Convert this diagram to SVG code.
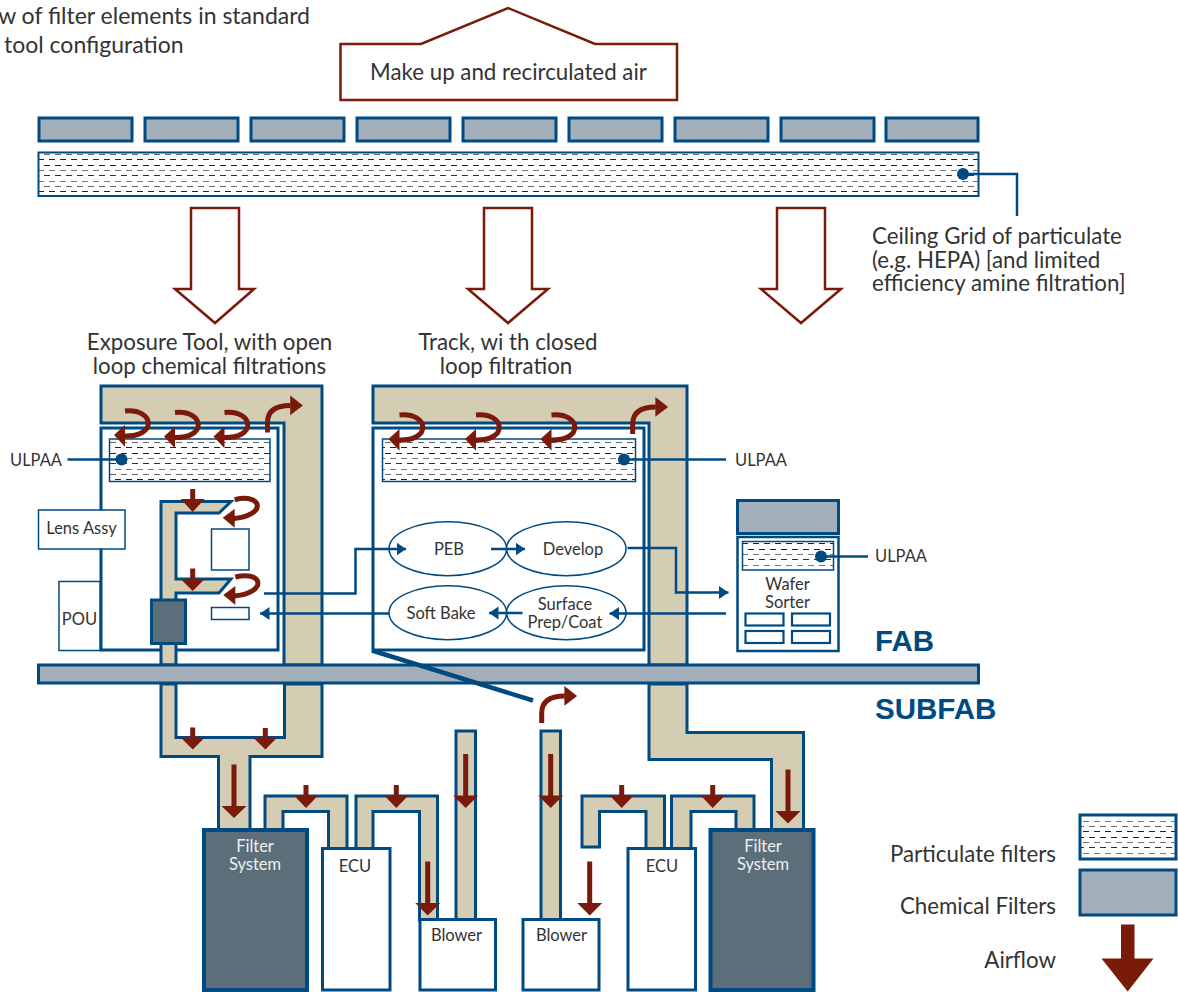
<svg xmlns="http://www.w3.org/2000/svg" width="1178" height="992" viewBox="0 0 1178 992">
<style>
text{font-family:Lato,"Open Sans","Liberation Sans",sans-serif;fill:#333;font-size:22.3px}
.m{text-anchor:middle}.e{text-anchor:end}
.s{font-size:16.5px}
.t{font-size:23px}
.w{fill:#eee}
.h{font-family:"Liberation Sans",Arial,sans-serif;font-weight:700;font-size:29.5px;fill:#004a82}
.duct{fill:#d4cdb4;stroke:#004a82;stroke-width:3;stroke-linejoin:miter}
.chem{fill:#a2afba;stroke:#004a82;stroke-width:3}
.part{fill:url(#dash);stroke:#004a82;stroke-width:2}
.box{fill:#fff;stroke:#004a82;stroke-width:3}
.thin{fill:#fff;stroke:#004a82;stroke-width:1.5}
.dark{fill:#5c6e79;stroke:#004a82;stroke-width:4}
.big{fill:#fff;stroke:#7a1a0a;stroke-width:2.5}
.ra{fill:#7a1a0a}
.rs{fill:none;stroke:#7a1a0a;stroke-width:5}
.ln{fill:none;stroke:#004a82;stroke-width:2.5}
.ar{fill:none;stroke:#004a82;stroke-width:2.5;marker-end:url(#tri)}
.dot{fill:#004a82}
</style>
<defs>
<pattern id="dash" patternUnits="userSpaceOnUse" x="0" y="154" width="11" height="32">
<rect width="11" height="32" fill="#fff"/>
<path d="M0,.5h6" stroke="#666" fill="none"/>
<path d="M5,5.5h6" stroke="#222" fill="none"/>
<path d="M0,11.5h6" stroke="#222" fill="none"/>
<path d="M5,16.5h6" stroke="#777" fill="none"/>
<path d="M0,21.5h6" stroke="#333" fill="none"/>
<path d="M5,27.5h6" stroke="#777" fill="none"/>
</pattern>
<marker id="tri" markerUnits="userSpaceOnUse" markerWidth="10" markerHeight="14" refX="9.5" refY="6.5" orient="auto"><path d="M0,0L9.5,6.5L0,13Z" fill="#004a82"/></marker>
<g id="uturn"><path class="rs" d="M11,-24C40,-27 45,3 8,1"/><path class="ra" d="M0,0L11,-10V11.7Z"/></g>
<g id="uturnS"><path class="rs" d="M12,-18C40,-25 45,-2 10,1"/><path class="ra" d="M0,0L12,-9V10Z"/></g>
<g id="upturn"><path class="rs" d="M0,0V-10Q0,-27 23,-27"/><path class="ra" d="M22.7,-37L35.4,-27L22.7,-17.3Z"/></g>
</defs>

<rect width="1178" height="992" fill="#fff"/>

<g id="title">
<text class="e t" x="310" y="24">w of filter elements in standard</text>
<text class="t" x="4" y="53">tool configuration</text>
</g>

<g id="makeup-air">
<path class="big" d="M340.5,44H421L508,8L595,44H677V100H340.5Z"/>
<text class="m" x="508.5" y="80">Make up and recirculated air</text>
</g>

<g id="chemical-filters">
<rect class="chem" x="39" y="118" width="93" height="23"/>
<rect class="chem" x="145" y="118" width="93" height="23"/>
<rect class="chem" x="251" y="118" width="93" height="23"/>
<rect class="chem" x="357" y="118" width="93" height="23"/>
<rect class="chem" x="463" y="118" width="93" height="23"/>
<rect class="chem" x="569" y="118" width="93" height="23"/>
<rect class="chem" x="675" y="118" width="93" height="23"/>
<rect class="chem" x="781" y="118" width="93" height="23"/>
<rect class="chem" x="886" y="118" width="92" height="23"/>
</g>

<g id="ceiling-grid">
<rect class="part" x="38.5" y="152.5" width="940" height="43.5"/>
<circle class="dot" cx="963" cy="174" r="6"/>
<path class="ln" d="M963,174H1017V216"/>
<text x="872" y="244">Ceiling Grid of particulate</text>
<text x="872" y="268">(e.g. HEPA) [and limited</text>
<text x="872" y="291">efficiency amine filtration]</text>
</g>

<g id="downflow">
<path class="big" d="M191,208H239V289H254L215,323L175,289H191Z"/>
<path class="big" d="M484,208H532V289H548L508,323L468,289H484Z"/>
<path class="big" d="M777,208H825V289H841L801,323L761,289H777Z"/>
</g>

<g id="exposure-tool">
<text class="m" x="209.5" y="350">Exposure Tool, with open</text>
<text class="m" x="209.5" y="374">loop chemical filtrations</text>
<path class="duct" d="M101,386H322V665H284V423H101Z"/>
<rect class="box" x="101" y="428" width="177" height="222"/>
<rect class="part" x="109.5" y="439" width="160.5" height="42.5" style="stroke-width:1.5"/>
<circle class="dot" cx="121.5" cy="459.5" r="6"/>
<path class="ln" d="M67.5,459.5H121"/>
<text class="s" x="10" y="466">ULPAA</text>
<rect class="thin" x="38.5" y="510" width="86.5" height="39"/>
<text class="s m" x="81.5" y="534">Lens Assy</text>
<rect class="thin" x="59" y="581.5" width="41" height="69"/>
<text class="s m" x="79.5" y="625">POU</text>
<path class="duct" d="M161,665V501.5H231L219,513H176V579H231L219,593H176V665Z"/>
<rect class="thin" x="211.5" y="529" width="37.5" height="41"/>
<rect class="thin" x="211.5" y="607.5" width="37.5" height="12"/>
<rect x="151.5" y="600" width="34" height="43.5" fill="#5c6e79" stroke="#004a82" stroke-width="3"/>
</g>

<g id="track">
<text class="m" x="508" y="350">Track, wi th closed</text>
<text class="m" x="506" y="374">loop filtration</text>
<path class="duct" d="M373,386H687V665H649V423H373Z"/>
<rect class="box" x="373" y="428" width="271" height="222"/>
<rect class="part" x="382.5" y="439" width="253" height="42.5" style="stroke-width:1.5"/>
<circle class="dot" cx="624" cy="459.5" r="6"/>
<path class="ln" d="M624,459.5H726"/>
<text class="s" x="735" y="466">ULPAA</text>
<ellipse class="thin" cx="447.8" cy="548.7" rx="58.8" ry="27"/>
<ellipse class="thin" cx="566.3" cy="548.7" rx="59.7" ry="27"/>
<ellipse class="thin" cx="447.8" cy="612.7" rx="58.8" ry="27"/>
<ellipse class="thin" cx="566.3" cy="612.7" rx="59.7" ry="27"/>
<text class="s m" x="449" y="555">PEB</text>
<text class="s m" x="573" y="555">Develop</text>
<text class="s m" x="441" y="619">Soft Bake</text>
<text class="s m" x="565" y="610">Surface</text>
<text class="s m" x="565" y="628">Prep/Coat</text>
</g>

<g id="wafer-sorter">
<rect class="chem" x="737.5" y="500.5" width="101" height="33"/>
<rect x="737.5" y="537" width="101" height="114" fill="#fff" stroke="#004a82" stroke-width="2.5"/>
<rect class="part" x="742.5" y="541.5" width="91" height="28.5" style="stroke-width:1.5"/>
<circle class="dot" cx="821" cy="556.5" r="6"/>
<path class="ln" d="M821,556.5H868"/>
<text class="s" x="875" y="562">ULPAA</text>
<text class="s m" x="787.5" y="590">Wafer</text>
<text class="s m" x="787.5" y="608">Sorter</text>
<rect x="745.5" y="613.5" width="38" height="12" fill="#fff" stroke="#004a82" stroke-width="2.2"/>
<rect x="792" y="613.5" width="38" height="12" fill="#fff" stroke="#004a82" stroke-width="2.2"/>
<rect x="745.5" y="631" width="38" height="12" fill="#fff" stroke="#004a82" stroke-width="2.2"/>
<rect x="792" y="631" width="38" height="12" fill="#fff" stroke="#004a82" stroke-width="2.2"/>
</g>

<g id="fab-floor">
<rect class="chem" x="38.5" y="665" width="940" height="18"/>
<text class="h" x="875" y="651">FAB</text>
<text class="h" x="875" y="719">SUBFAB</text>
</g>

<g id="subfab-ducts">
<path class="duct" d="M161,684V756.5H218.5V830H250V756.5H322V684H284.5V737.5H176V684Z"/>
<path class="duct" d="M265,830V796H347V849H328.5V811.5H283V830Z"/>
<path class="duct" d="M356,849V796H437.5V920H419.5V811.5H373V849Z"/>
<path class="duct" d="M456,920V731H475.5V920Z"/>
<path class="duct" d="M541,920V731H560.5V920Z"/>
<path class="duct" d="M582,847V796H664.5V849H646V811.5H599.5V847Z"/>
<path class="duct" d="M671.5,849V796H754V830H736V811.5H691V849Z"/>
<path class="duct" d="M649,684V759.5H771.5V830H803.5V732.5H687V684Z"/>
</g>

<g id="filter-system-1"><rect class="dark" x="204" y="830" width="103" height="160"/><text class="s m w" x="255" y="852">Filter</text><text class="s m w" x="255" y="870">System</text></g>
<g id="ecu-1"><rect class="box" x="322.5" y="848.5" width="67.5" height="141.5"/><text class="s m" x="355" y="872">ECU</text></g>
<g id="blower-1"><rect class="box" x="420" y="919.5" width="75.5" height="70.5"/><text class="s m" x="456.5" y="941">Blower</text></g>
<g id="blower-2"><rect class="box" x="523" y="919.5" width="76" height="70.5"/><text class="s m" x="561.5" y="941">Blower</text></g>
<g id="ecu-2"><rect class="box" x="628" y="848.5" width="67.5" height="141.5"/><text class="s m" x="662" y="872">ECU</text></g>
<g id="filter-system-2"><rect class="dark" x="710.5" y="830" width="103" height="160"/><text class="s m w" x="763" y="852">Filter</text><text class="s m w" x="763" y="870">System</text></g>

<g id="connectors">
<path class="ar" d="M264,593.5H355.5V549H406"/>
<path class="ar" d="M491,549H525"/>
<path class="ar" d="M627.5,548H676V592.5H728.5"/>
<path class="ar" d="M726,613.5H609.5"/>
<path class="ar" d="M522.5,613H489"/>
<path class="ar" d="M389,613.5H260"/>
<path d="M372,650.5L533,700.5" fill="none" stroke="#004a82" stroke-width="4.5"/>
</g>

<g id="airflow">
<use href="#uturn" x="114" y="435"/>
<use href="#uturn" x="164" y="436.5"/>
<use href="#uturn" x="213.5" y="436.5"/>
<use href="#uturn" x="388.5" y="439"/>
<use href="#uturn" x="465" y="439"/>
<use href="#uturn" x="540.5" y="439"/>
<use href="#uturnS" x="222.7" y="517.7"/>
<use href="#uturnS" x="223.3" y="595"/>
<use href="#upturn" x="267.5" y="432.5"/>
<use href="#upturn" x="632.7" y="434"/>
<use href="#upturn" x="541.7" y="723"/>
<path class="ra" d="M190.2,489h5v10h9.5l-12,13l-12,-13h9.5z"/>
<path class="ra" d="M190.2,568.5h5v10.5h9.5l-12,12l-12,-12h9.5z"/>
<path class="ra" d="M190.2,727.5h5v10h9.5l-12,12l-12,-12h9.5z"/>
<path class="ra" d="M262.8,728h5v9.5h9.5l-12,12l-12,-12h9.5z"/>
<path class="ra" d="M231.5,764.5h5v41.5h10l-12.5,12l-12.5,-12h10z"/>
<path class="ra" d="M303.5,785h5v10.5h9.5l-12,12.5l-12,-12.5h9.5z"/>
<path class="ra" d="M393.8,785h5v10.5h9.5l-12,12.5l-12,-12.5h9.5z"/>
<path class="ra" d="M425.2,861.5h5v41.5h10l-12.5,12.5l-12.5,-12.5h10z"/>
<path class="ra" d="M463.2,754h5v41.5h10l-12.5,12.5l-12.5,-12.5h10z"/>
<path class="ra" d="M548.2,754h5v41.5h10l-12.5,12.5l-12.5,-12.5h10z"/>
<path class="ra" d="M587.2,861.5h5v41.5h10l-12.5,12.5l-12.5,-12.5h10z"/>
<path class="ra" d="M619.2,785h5v10.5h9.5l-12,12.5l-12,-12.5h9.5z"/>
<path class="ra" d="M710.2,785h5v10.5h9.5l-12,12.5l-12,-12.5h9.5z"/>
<path class="ra" d="M785.5,769.5h5v41.5h10l-12.5,12.5l-12.5,-12.5h10z"/>
</g>

<g id="legend">
<rect class="part" x="1080" y="815" width="96" height="44" style="stroke-width:3"/>
<rect class="chem" x="1080" y="870" width="96" height="45"/>
<path class="ra" d="M1121,924.5h13.5V958.5H1153.5L1127.7,991.5L1101.5,958.5H1121Z"/>
<text class="e" x="1056" y="861.5">Particulate filters</text>
<text class="e" x="1056" y="914">Chemical Filters</text>
<text class="e" x="1056" y="968">Airflow</text>
</g>
</svg>
